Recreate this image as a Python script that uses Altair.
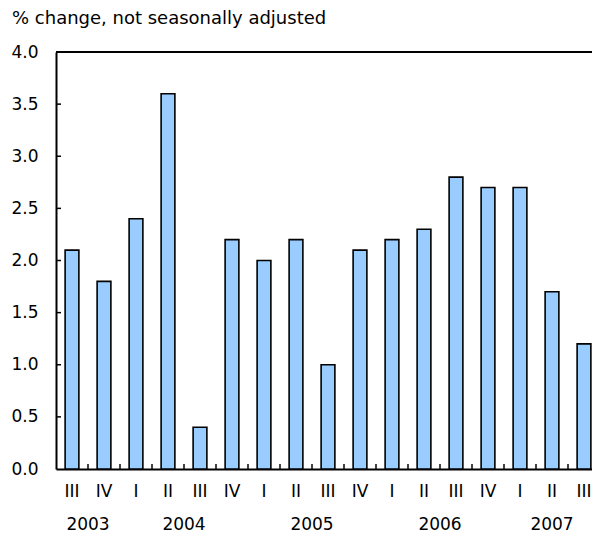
import altair as alt
import pandas as pd

# ---- data ----
quarters = ["III", "IV", "I", "II", "III", "IV", "I", "II", "III", "IV",
            "I", "II", "III", "IV", "I", "II", "III"]
years = ["2003", "2003", "2004", "2004", "2004", "2004", "2005", "2005", "2005", "2005",
         "2006", "2006", "2006", "2006", "2007", "2007", "2007"]
values = [2.1, 1.8, 2.4, 3.6, 0.4, 2.2, 2.0, 2.2, 1.0, 2.1,
          2.2, 2.3, 2.8, 2.7, 2.7, 1.7, 1.2]
y_tick_values = [0.0, 0.5, 1.0, 1.5, 2.0, 2.5, 3.0, 3.5, 4.0]
title_text = "% change, not seasonally adjusted"

FONT = "DejaVu Sans"
FS = 17
W, H = 536, 417
n = len(values)

df = pd.DataFrame({"i": list(range(n)), "q": quarters, "year": years, "value": values})
df["c"] = df["i"] + 0.5
df["x0"] = df["i"] + 0.285
df["x1"] = df["i"] + 0.715

bounds = pd.DataFrame({"b": list(range(1, n))})
yt = pd.DataFrame({"v": y_tick_values[1:-1]})
top = pd.DataFrame({"v": [y_tick_values[-1]]})
ttl = pd.DataFrame({"t": [title_text]})

xs = alt.Scale(domain=[0, n - 0.25], nice=False, zero=False)
ys = alt.Scale(domain=[y_tick_values[0], y_tick_values[-1]], nice=False)

bars = alt.Chart(df).mark_bar(fill="#99CCFF", stroke="#000000", strokeWidth=1.6).encode(
    x=alt.X("x0:Q", scale=xs,
            axis=alt.Axis(labels=False, ticks=False, grid=False, domain=True,
                          domainColor="#000000", domainWidth=2, title=None)),
    x2="x1:Q",
    y=alt.Y("value:Q", scale=ys,
            axis=alt.Axis(values=y_tick_values, format=".1f", grid=False,
                          ticks=True, tickSize=0, tickWidth=0,
                          labelPadding=18, labelFont=FONT, labelFontSize=FS,
                          labelColor="#000000", domainColor="#000000",
                          domainWidth=2, title=None)),
    y2=alt.datum(0),
)

xticks = alt.Chart(bounds).mark_rule(color="#000000", strokeWidth=1.5).encode(
    x=alt.X("b:Q", scale=xs),
    y=alt.value(H - 5),
    y2=alt.value(H),
)

yticks = alt.Chart(yt).mark_rule(color="#000000", strokeWidth=1.5).encode(
    y=alt.Y("v:Q", scale=ys),
    x=alt.value(0),
    x2=alt.value(5),
)

topline = alt.Chart(top).mark_rule(color="#000000", strokeWidth=2).encode(
    y=alt.Y("v:Q", scale=ys),
    x=alt.value(0),
    x2=alt.value(W),
)

qlabels = alt.Chart(df).mark_text(font=FONT, fontSize=FS, color="#000000",
                                  baseline="middle", align="center").encode(
    x=alt.X("c:Q", scale=xs),
    y=alt.value(H + 23),
    text="q:N",
)

ylabels = alt.Chart(df).transform_aggregate(
    cx="mean(c)", groupby=["year"]
).mark_text(font=FONT, fontSize=FS, color="#000000",
            baseline="middle", align="center").encode(
    x=alt.X("cx:Q", scale=xs),
    y=alt.value(H + 56),
    text="year:N",
)

title = alt.Chart(ttl).mark_text(font=FONT, fontSize=18, color="#000000",
                                 baseline="alphabetic", align="left").encode(
    x=alt.value(-44),
    y=alt.value(-28),
    text="t:N",
)

chart = alt.layer(bars, xticks, yticks, topline, qlabels, ylabels, title).properties(
    width=W,
    height=H,
    autosize="none",
    padding={"left": 48, "top": 44, "right": 0, "bottom": 66},
).configure_view(strokeWidth=0)

chart.save("out.html", embed_options={"renderer": "svg", "actions": False})
